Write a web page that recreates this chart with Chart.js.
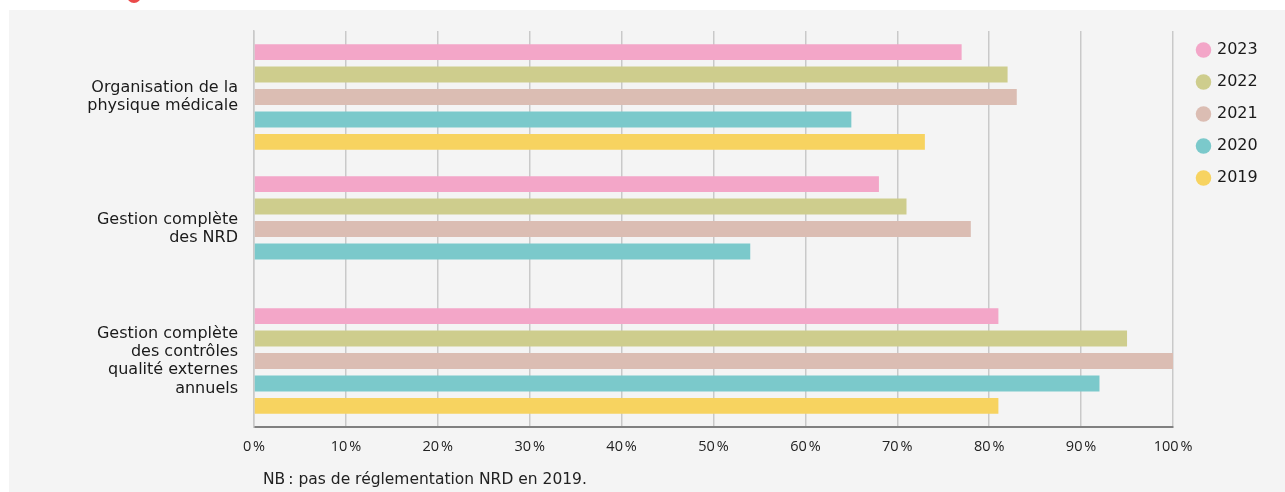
<!DOCTYPE html>
<html lang="fr">
<head>
<meta charset="utf-8">
<title>Gestion NRD et contrôles qualité</title>
<script src="https://cdn.jsdelivr.net/npm/chart.js@4.4.1/dist/chart.umd.min.js"></script>
<style>
  html, body { margin: 0; padding: 0; background: #fff; }
  body { width: 1285px; height: 492px; position: relative; overflow: hidden; font-family: "DejaVu Sans", sans-serif; }
  .dot { position: absolute; left: 127px; top: -11px; width: 14px; height: 14px; border-radius: 50%; background: #ea4a4a; }
  .panel { position: absolute; left: 9px; top: 10px; width: 1276px; height: 482px; background: #f4f4f4; }
  .panel canvas { position: absolute; left: 0; top: 0; }
  .note { position: absolute; left: 254px; top: 460px; font-size: 15.5px; color: #222; }
</style>
</head>
<body>
<div class="dot"></div>
<div class="panel">
  <canvas id="chart" width="1276" height="482"></canvas>
  <div class="note">NB&#8239;: pas de réglementation NRD en 2019.</div>
</div>
<script>
const categories = [
  ["Organisation de la", "physique médicale"],
  ["Gestion complète", "des NRD"],
  ["Gestion complète", "des contrôles", "qualité externes", "annuels"]
];
const years = ["2023", "2022", "2021", "2020", "2019"];
const values2023 = [77, 68, 81];
const values2022 = [82, 71, 95];
const values2021 = [83, 78, 100];
const values2020 = [65, 54, 92];
const values2019 = [73, null, 81]; // pas de réglementation NRD en 2019
const xTicks = [0, 10, 20, 30, 40, 50, 60, 70, 80, 90, 100];
const colors = ["#f3a6c8", "#cecd8d", "#dbbdb3", "#7bc9cb", "#f7d360"];

const series = [values2023, values2022, values2021, values2020, values2019];

// push the legend column a bit further from the plot
const legendOffset = {
  id: "legendOffset",
  afterLayout(chart) {
    chart.legend.left += 9;
    chart.legend.right += 9;
  }
};

new Chart(document.getElementById("chart"), {
  type: "bar",
  data: {
    labels: categories,
    datasets: series.map((vals, i) => ({
      label: years[i],
      data: vals,
      backgroundColor: colors[i],
      borderWidth: 0,
      barPercentage: 0.71,
      categoryPercentage: 0.85
    }))
  },
  options: {
    indexAxis: "y",
    responsive: false,
    animation: false,
    layout: { padding: { top: 16, right: 2, bottom: 0, left: 0 } },
    scales: {
      x: {
        min: 0,
        max: 100,
        afterBuildTicks: (axis) => { axis.ticks = xTicks.map((v) => ({ value: v })); },
        afterFit: (axis) => {
          axis.height = 65;
          axis.paddingRight = 112; // leaves room for the legend column
        },
        grid: { color: "#c9c9c9", lineWidth: 1.5, drawTicks: false },
        border: { color: "#808080", width: 2 },
        ticks: {
          padding: 11,
          color: "#222",
          font: { family: "Open Sans", size: 14.5 },
          callback: (v) => v + "\u202f%"
        }
      },
      y: {
        afterFit: (axis) => {
          axis.width = 245;
          axis.paddingTop = 21;
          axis.paddingBottom = 0;
        },
        grid: { display: false, drawTicks: false },
        border: { color: "#c9c9c9", width: 1.5 },
        ticks: {
          padding: 16,
          color: "#1a1a1a",
          font: { family: "DejaVu Sans", size: 16, lineHeight: 1.15 }
        }
      }
    },
    plugins: {
      legend: {
        position: "right",
        align: "start",
        labels: {
          usePointStyle: true,
          pointStyle: "circle",
          boxWidth: 11,
          boxHeight: 11,
          padding: 16,
          color: "#1a1a1a",
          font: { family: "DejaVu Sans", size: 16 }
        }
      },
      tooltip: { enabled: false }
    }
  },
  plugins: [legendOffset]
});
</script>
</body>
</html>
